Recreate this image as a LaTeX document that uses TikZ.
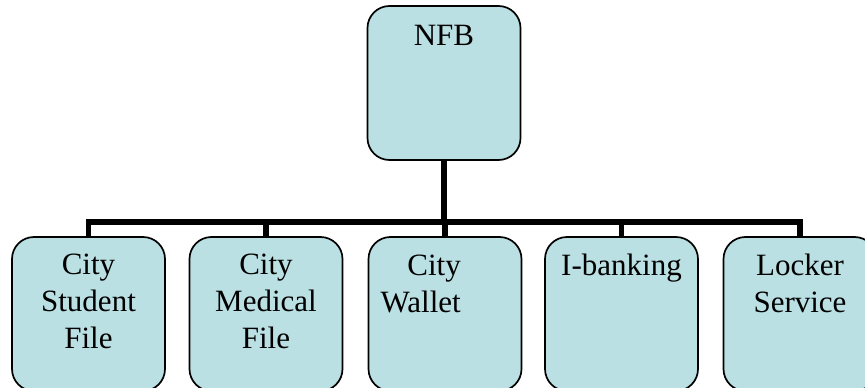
\documentclass[tikz,border=0pt]{standalone}
\usepackage{fontspec}
\setmainfont{Liberation Serif}
\definecolor{boxfill}{RGB}{186,224,227}
\begin{document}
\begin{tikzpicture}[x=1pt,y=-1pt,
  orgbox/.style={draw=black, fill=boxfill, line width=1.7pt, rounded corners=22pt,
    minimum width=153pt, minimum height=154pt, inner sep=0pt},
  label/.style={inner sep=0pt, align=center, font=\fontsize{31}{37}\selectfont},
  conn/.style={line width=5.3pt, line join=miter}]
\useasboundingbox (0,0) rectangle (865,388);
\clip (0,0) rectangle (865,388);
% boxes
\node[orgbox] (nfb) at (444,83) {};
\node[orgbox] (b1) at (88.5,314) {};
\node[orgbox] (b2) at (266,314) {};
\node[orgbox] (b3) at (445,314) {};
\node[orgbox] (b4) at (621.5,314) {};
\node[orgbox] (b5) at (800,314) {};
% connectors
\coordinate (bus) at (444,222);
\draw[conn] (nfb.south) -- (bus);
\draw[conn] (b1.north) |- (bus);
\draw[conn] (b2.north) |- (bus);
\draw[conn] (b3.north) |- (bus);
\draw[conn] (b4.north) |- (bus);
\draw[conn] (b5.north) |- (bus);
% texts
\node[label, anchor=north] (tnfb) at (444,25) {NFB};
\node[label, anchor=north] (t1) at (88.5,254) {City\\Student\\File};
\node[label, anchor=north] (t2) at (266,254) {City\\Medical\\File};
\node[label, anchor=north east, align=right] (t3) at (461,255) {City\\Wallet};
\node[label, anchor=north] (t4) at (621.5,254) {I-banking};
\node[label, anchor=north] (t5) at (800,254) {Locker\\Service};
\end{tikzpicture}
\end{document}
